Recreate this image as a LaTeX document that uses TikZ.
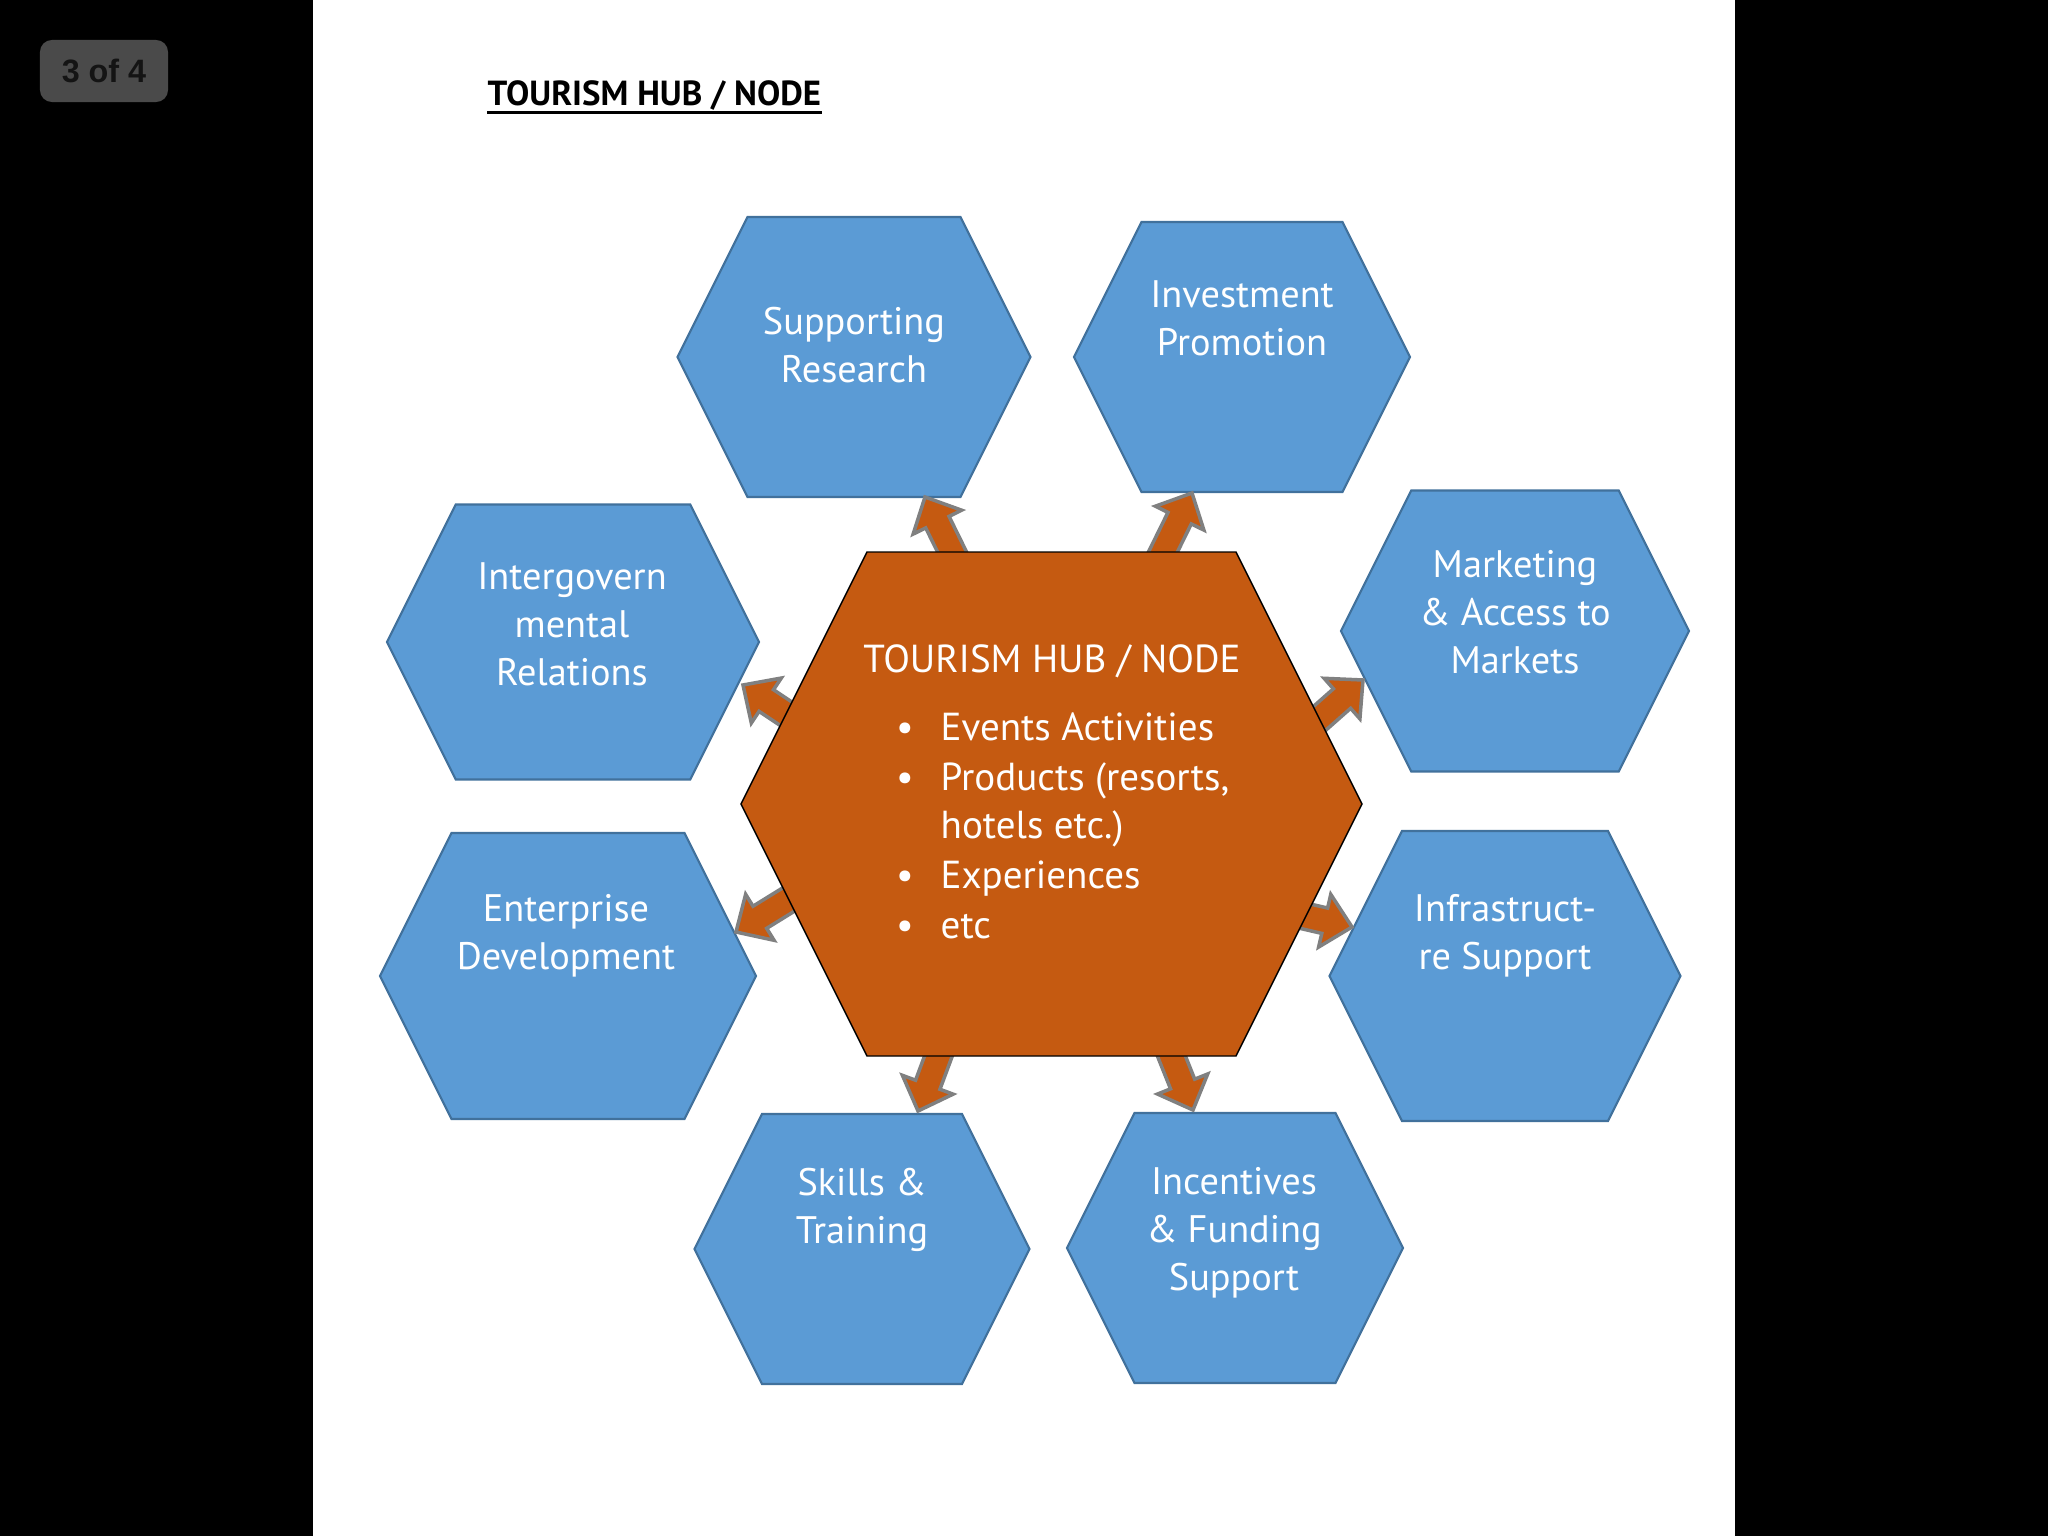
\documentclass[tikz,border=0pt]{standalone}
\usepackage{fontspec}
\setmainfont{PT Sans}
\newfontfamily\badgefont{Liberation Sans}
\usetikzlibrary{calc}

\definecolor{hexblue}{HTML}{5B9BD5}
\definecolor{hexedge}{HTML}{41719C}
\definecolor{hubfill}{HTML}{C55A11}
\definecolor{arrowedge}{HTML}{808080}
\definecolor{badgegray}{HTML}{4A4A4A}
\definecolor{badgetext}{HTML}{141414}

\tikzset{
  hexa/.style={fill=hexblue, draw=hexedge, line width=0.6pt, line join=miter},
  hub/.style={fill=hubfill},
  hubarrow/.style={fill=hubfill, draw=arrowedge, line width=1pt, line join=miter},
  hextext/.style={text=white, align=center, inner sep=0pt, font=\fontsize{10.9}{13.7}\selectfont},
  hubtext/.style={text=white, inner sep=0pt, font=\fontsize{11.1}{14}\selectfont},
}

% hexagon with points left and right: style, cx, cy, width, height
\newcommand{\drawhex}[5]{%
  \draw[#1] ({#2-#4/2},#3) -- ({#2-#4/2+#5/4},{#3-#5/2}) -- ({#2+#4/2-#5/4},{#3-#5/2})
    -- ({#2+#4/2},#3) -- ({#2+#4/2-#5/4},{#3+#5/2}) -- ({#2-#4/2+#5/4},{#3+#5/2}) -- cycle;}

% block arrow from tail to tip
\newcommand{\blockarrow}[2]{%
  \coordinate (ah) at ($(#2)!0.28cm!(#1)$);
  \draw[hubarrow] ($(#1)!0.13cm!90:(#2)$) -- ($(ah)!0.13cm!90:(#2)$) -- ($(ah)!0.27cm!90:(#2)$)
    -- (#2) -- ($(ah)!0.27cm!-90:(#2)$) -- ($(ah)!0.13cm!-90:(#2)$) -- ($(#1)!0.13cm!-90:(#2)$) -- cycle;}

\begin{document}
\begin{tikzpicture}[x=0.01cm, y=-0.01cm]
\useasboundingbox (0,0) rectangle (2048,1536);
\fill[black] (0,0) rectangle (2048,1536);
\fill[white] (313,0) rectangle (1735,1536);

% page counter
\node[fill=badgegray, rounded corners=0.12cm, minimum width=1.28cm, minimum height=0.62cm, inner sep=0pt,
  text=badgetext, font=\badgefont\bfseries\fontsize{9.2}{10}\selectfont] (badge) at (104,71) {3 of 4};

% heading
\node[anchor=base west, inner sep=0pt, font=\bfseries\fontsize{9.9}{11}\selectfont] (title) at (487,105) {TOURISM HUB / NODE};
\draw[line width=0.85pt] ([yshift=-0.07cm]title.base west) -- ([yshift=-0.07cm]title.base east);

% outer hexagons
\drawhex{hexa}{854}{357}{353}{280}
\drawhex{hexa}{1242}{357}{336}{270}
\drawhex{hexa}{573}{642}{372}{275}
\drawhex{hexa}{1515}{631}{348}{281}
\drawhex{hexa}{568}{976}{376}{286}
\drawhex{hexa}{1505}{976}{351}{290}
\drawhex{hexa}{862}{1249}{335}{270}
\drawhex{hexa}{1235}{1248}{336}{270}

\node[hextext] (research) at (854,345) {Supporting\\Research};
\node[hextext] (invest) at (1242,318) {Investment\\Promotion};
\node[hextext] (intergov) at (572,624) {Intergovern\\mental\\Relations};
\node[hextext] (market) at (1515,612) {Marketing\\\& Access to\\Markets};
\node[hextext] (enterprise) at (566,936) {Enterprise\\Development};
\node[hextext] (infra) at (1505,936) {Infrastruct-\\re Support};
\node[hextext] (skills) at (862,1210) {Skills \&\\Training};
\node[hextext] (funding) at (1234,1233) {Incentives\\\& Funding\\Support};

% arrows out of the hub
\coordinate (tail1) at (958,564);   \coordinate (tip1) at (925,497);
\coordinate (tail2) at (1159,560);  \coordinate (tip2) at (1192,493);
\coordinate (tail3) at (809,729);   \coordinate (tip3) at (743,685);
\coordinate (tail4) at (1303,733);  \coordinate (tip4) at (1363,680);
\coordinate (tail5) at (804,890);   \coordinate (tip5) at (736,932);
\coordinate (tail6) at (1274,909);  \coordinate (tip6) at (1352,927);
\coordinate (tail7) at (944,1041);  \coordinate (tip7) at (918,1111);
\coordinate (tail8) at (1165,1040); \coordinate (tip8) at (1193,1110);
\foreach \i in {1,...,8}
  \blockarrow{tail\i}{tip\i};

% hub
\drawhex{hub}{1051.5}{804}{621}{504}
\node[hubtext, anchor=base] (hubtitle) at (1052,672) {TOURISM HUB / NODE};
\node[hubtext, anchor=base] (b1) at (905,740) {\textbullet};
\node[hubtext, anchor=base west] (events) at (940,740) {Events Activities};
\node[hubtext, anchor=base] (b2) at (905,790) {\textbullet};
\node[hubtext, anchor=base west] (products) at (940,790) {Products (resorts,};
\node[hubtext, anchor=base west] (hotels) at (940,838) {hotels etc.)};
\node[hubtext, anchor=base] (b3) at (905,888) {\textbullet};
\node[hubtext, anchor=base west] (experiences) at (940,888) {Experiences};
\node[hubtext, anchor=base] (b4) at (905,938) {\textbullet};
\node[hubtext, anchor=base west] (etc) at (940,938) {etc};
\end{tikzpicture}
\end{document}
